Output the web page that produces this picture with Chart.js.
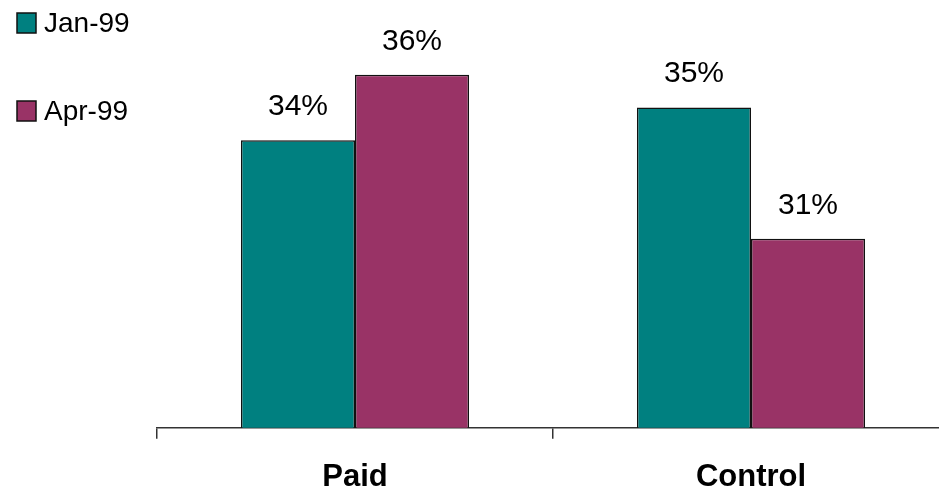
<!DOCTYPE html>
<html>
<head>
<meta charset="utf-8">
<script src="https://cdn.jsdelivr.net/npm/chart.js@4"></script>
<style>
  html, body { margin: 0; padding: 0; background: #fff; overflow: hidden; }
  #wrap { width: 960px; height: 516px; }
</style>
</head>
<body>
<div id="wrap"><canvas id="myChart"></canvas></div>
<script>
const categories = ["Paid", "Control"];
const seriesNames = ["Jan-99", "Apr-99"];
const jan99 = [34, 35];
const apr99 = [36, 31];
const barColors = ["#008080", "#993366"];

const FONT = "Arial, 'Liberation Sans', sans-serif";

// labels above each bar
const valueLabels = {
    id: "valueLabels",
    afterDatasetsDraw(chart) {
        const ctx = chart.ctx;
        ctx.save();
        ctx.font = "30px " + FONT;
        ctx.fillStyle = "#000";
        ctx.textAlign = "center";
        ctx.textBaseline = "alphabetic";
        chart.data.datasets.forEach((ds, i) => {
            chart.getDatasetMeta(i).data.forEach((bar, j) => {
                ctx.fillText(ds.data[j] + "%", bar.x, bar.y - 25);
            });
        });
        ctx.restore();
    }
};

// legend drawn in the top left corner, one item per dataset
const sideLegend = {
    id: "sideLegend",
    afterDraw(chart) {
        const ctx = chart.ctx;
        ctx.save();
        ctx.font = "28px " + FONT;
        ctx.textBaseline = "middle";
        chart.data.datasets.forEach((ds, i) => {
            const cy = 23 + i * 88;
            ctx.fillStyle = ds.backgroundColor;
            ctx.fillRect(17, cy - 10, 19, 20);
            ctx.lineWidth = 1.5;
            ctx.strokeStyle = "#111";
            ctx.strokeRect(17, cy - 10, 19, 20);
            ctx.fillStyle = "#000";
            ctx.fillText(ds.label, 44, cy + 1);
        });
        ctx.restore();
    }
};

new Chart(document.querySelector("#myChart"), {
    type: "bar",
    data: {
        labels: categories,
        datasets: [
            { label: seriesNames[0], data: jan99, backgroundColor: barColors[0] },
            { label: seriesNames[1], data: apr99, backgroundColor: barColors[1] }
        ]
    },
    options: {
        responsive: true,
        maintainAspectRatio: false,
        animation: false,
        layout: { padding: { left: 157, right: 11, top: 9, bottom: 0 } },
        datasets: {
            bar: {
                categoryPercentage: 0.576,
                barPercentage: 1,
                borderWidth: 1.5,
                borderColor: "#111"
            }
        },
        plugins: {
            legend: { display: false },
            tooltip: { enabled: false }
        },
        scales: {
            x: {
                border: { color: "#333", width: 1.5 },
                grid: {
                    offset: true,
                    drawOnChartArea: false,
                    drawTicks: true,
                    tickLength: 11,
                    color: "#333",
                    lineWidth: 1.5
                },
                ticks: {
                    color: "#000",
                    padding: 20,
                    font: { family: FONT, size: 31, weight: "bold" }
                }
            },
            y: {
                display: false,
                min: 25.24,
                max: 38
            }
        }
    },
    plugins: [valueLabels, sideLegend]
});
</script>
</body>
</html>
